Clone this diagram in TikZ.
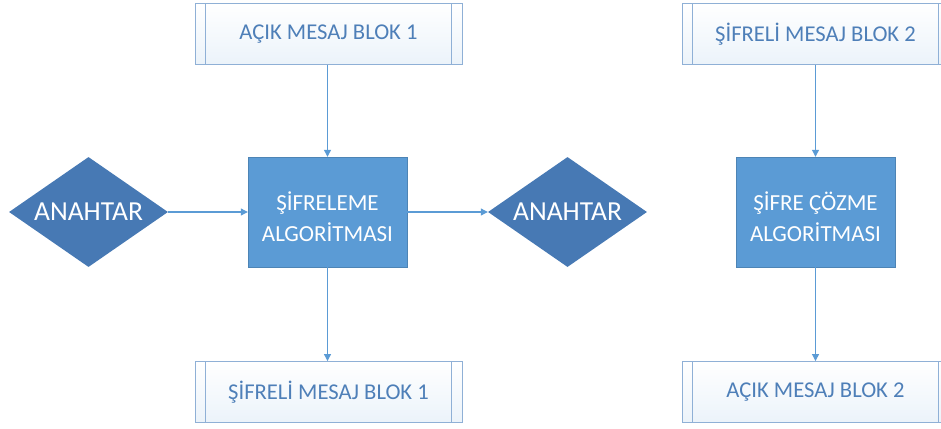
\documentclass[tikz,border=0pt]{standalone}
\usepackage{fontspec}
\setmainfont{Carlito}
\usetikzlibrary{shapes.geometric,arrows.meta}
\definecolor{procblue}{HTML}{5B9BD5}
\definecolor{keyblue}{HTML}{4779B4}
\definecolor{edgeblue}{HTML}{8FB0D6}
\definecolor{msgtext}{HTML}{4E7FB8}
\definecolor{flowblue}{HTML}{5B9BD5}
\tikzset{
  msgbox/.style={rectangle, draw=edgeblue, line width=0.9pt,
    top color=white, bottom color=procblue!12,
    minimum width=267pt, minimum height=61pt, inner sep=0pt,
    text=msgtext, font=\fontsize{22.6}{26}\selectfont,
    path picture={
      \draw[edgeblue, line width=0.9pt]
        ([xshift=10pt]path picture bounding box.north west) --
        ([xshift=10pt]path picture bounding box.south west);
      \draw[edgeblue, line width=0.9pt]
        ([xshift=-11pt]path picture bounding box.north east) --
        ([xshift=-11pt]path picture bounding box.south east);
    }},
  procbox/.style={rectangle, fill=procblue, draw=procblue!85!black, line width=0.4pt,
    minimum width=159pt, minimum height=110pt, inner sep=0pt,
    text=white, align=center, font=\fontsize{23}{31}\selectfont},
  proctext/.style={text=white, align=center, font=\fontsize{23}{31}\selectfont},
  keybox/.style={diamond, fill=keyblue, aspect=1.445,
    minimum width=159pt, minimum height=110pt, inner sep=0pt,
    text=white, font=\fontsize{27.5}{30}\selectfont},
  flow/.style={draw=flowblue, line width=1.1pt,
    -{Triangle[length=7pt,width=7pt]}},
}
\begin{document}
\begin{tikzpicture}[x=1pt,y=1pt]
\useasboundingbox (0,0) rectangle (941,-428);
\clip (0,0) rectangle (941,-428);

% encryption column
\node[msgbox]  (p1) at (328.5,-34)  {AÇIK MESAJ BLOK 1};
\node[procbox] (enc) at (327.5,-212) {};
\node[proctext] (enctext) at ([yshift=-5pt]enc.center) {ŞİFRELEME\\ALGORİTMASI};
\node[msgbox]  (c1) at (328.5,-392) {ŞİFRELİ MESAJ BLOK 1};
\node[keybox]  (k1) at (88.5,-212)  {ANAHTAR};
\node[keybox]  (k2) at (567.5,-212) {ANAHTAR};

% decryption column
\node[msgbox]  (c2) at (815.5,-34)  {ŞİFRELİ MESAJ BLOK 2};
\node[procbox] (dec) at (815.5,-212) {};
\node[proctext] (dectext) at ([yshift=-5pt]dec.center) {ŞİFRE ÇÖZME\\ALGORİTMASI};
\node[msgbox]  (p2) at (815.5,-392) {AÇIK MESAJ BLOK 2};

% connectors
\draw[flow] (p1.south -| enc.north) -- (enc.north);
\draw[flow] (enc.south) -- (enc.south |- c1.north);
\draw[flow] (k1.east) -- (enc.west);
\draw[flow] (enc.east) -- (k2.west);
\draw[flow] (c2.south) -- (dec.north);
\draw[flow] (dec.south) -- (p2.north);
\end{tikzpicture}
\end{document}
